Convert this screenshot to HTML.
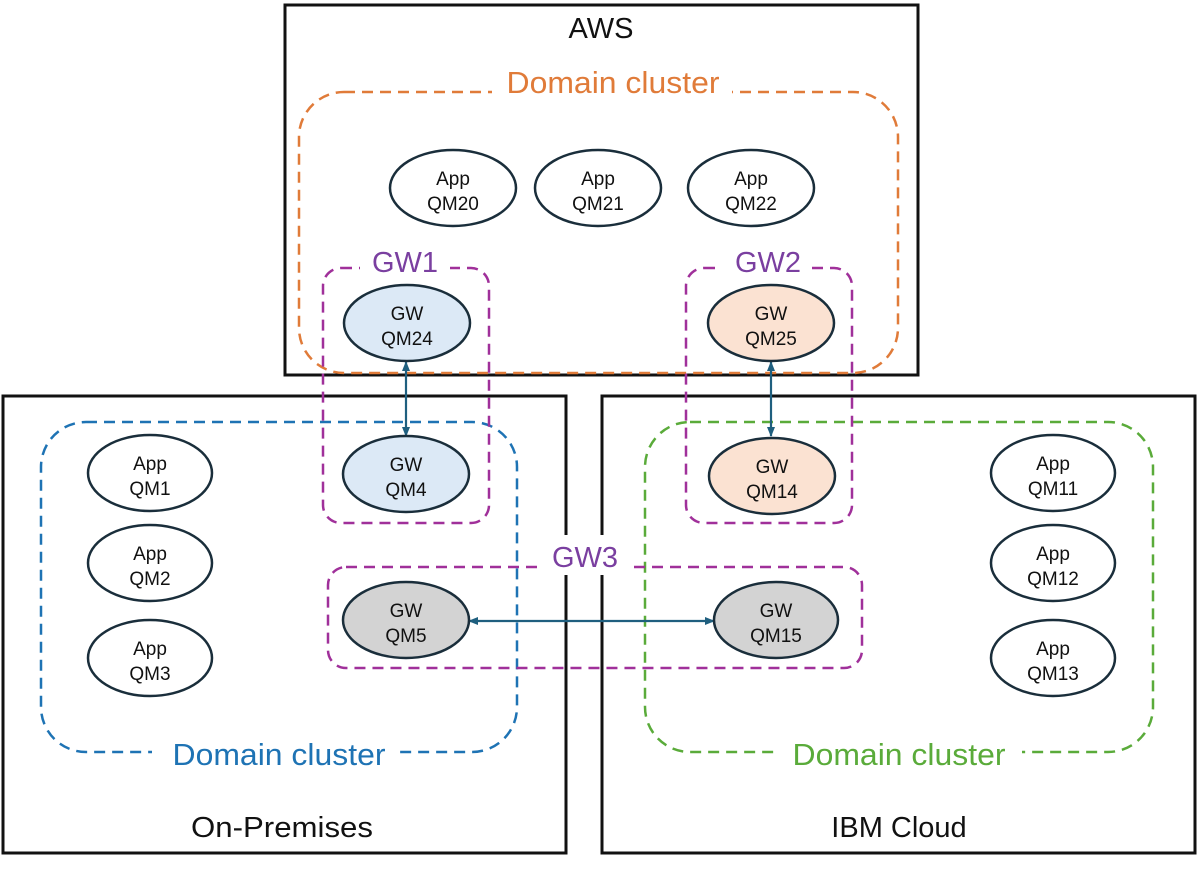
<!DOCTYPE html>
<html><head><meta charset="utf-8"><style>
html,body{margin:0;padding:0;background:#fff;}
svg{display:block;}
text{font-family:"Liberation Sans",sans-serif;}
</style></head><body>
<svg width="1200" height="872" viewBox="0 0 1200 872" xmlns="http://www.w3.org/2000/svg">
<defs>
<marker id="ah" markerWidth="10" markerHeight="10" refX="9" refY="5" orient="auto-start-reverse" markerUnits="userSpaceOnUse">
<path d="M0,1 L10,5 L0,9 z" fill="#1f5f7f"/>
</marker>
</defs>
<rect x="0" y="0" width="1200" height="872" fill="#fff"/>
<rect x="285" y="5" width="633" height="370" fill="none" stroke="#111" stroke-width="3"/>
<rect x="3" y="396" width="563" height="457" fill="none" stroke="#111" stroke-width="3"/>
<rect x="602" y="396" width="593" height="457" fill="none" stroke="#111" stroke-width="3"/>
<g fill="none" stroke-width="2.5" stroke-dasharray="11 7">
<rect x="299" y="92" width="599" height="281" rx="45" stroke="#e07b39"/>
<rect x="41" y="422" width="476" height="330" rx="45" stroke="#1e73b4"/>
<rect x="645" y="422" width="508" height="330" rx="45" stroke="#5aab3a"/>
<rect x="323" y="268" width="166" height="255" rx="18" stroke="#a0309a"/>
<rect x="686" y="268" width="166" height="255" rx="18" stroke="#a0309a"/>
<rect x="328" y="567" width="534" height="101" rx="18" stroke="#a0309a"/>
</g>
<g fill="#fff">
<rect x="492" y="62" width="240" height="40"/>
<rect x="360" y="240" width="90" height="40"/>
<rect x="722" y="240" width="90" height="40"/>
<rect x="540" y="535" width="90" height="40"/>
<rect x="152" y="735" width="245" height="38"/>
<rect x="777" y="735" width="245" height="38"/>
</g>
<g text-anchor="middle">
<text x="613" y="93" font-size="31" fill="#e07b39" textLength="213" lengthAdjust="spacingAndGlyphs">Domain cluster</text>
<text x="405" y="272" font-size="29" fill="#7a3fa0">GW1</text>
<text x="768" y="272" font-size="29" fill="#7a3fa0">GW2</text>
<text x="585" y="567" font-size="29" fill="#7a3fa0">GW3</text>
<text x="279" y="765" font-size="31" fill="#1e73b4" textLength="213" lengthAdjust="spacingAndGlyphs">Domain cluster</text>
<text x="899" y="765" font-size="31" fill="#5aab3a" textLength="213" lengthAdjust="spacingAndGlyphs">Domain cluster</text>
<text x="601" y="38" font-size="29" fill="#111">AWS</text>
<text x="282" y="837" font-size="29" fill="#111" textLength="182" lengthAdjust="spacingAndGlyphs">On-Premises</text>
<text x="899" y="837" font-size="29" fill="#111">IBM Cloud</text>
</g>
<g stroke="#1f5f7f" stroke-width="2.2" fill="none">
<line x1="406" y1="362" x2="406" y2="436" marker-start="url(#ah)" marker-end="url(#ah)"/>
<line x1="771" y1="362" x2="771" y2="436" marker-start="url(#ah)" marker-end="url(#ah)"/>
<line x1="469" y1="621" x2="714" y2="621" marker-start="url(#ah)" marker-end="url(#ah)"/>
</g>
<g stroke="#1a2e3b" stroke-width="2.5">
<ellipse cx="453" cy="188" rx="63" ry="38" fill="#fff"/>
<ellipse cx="598" cy="188" rx="63" ry="38" fill="#fff"/>
<ellipse cx="751" cy="188" rx="63" ry="38" fill="#fff"/>
<ellipse cx="407" cy="323" rx="63" ry="38" fill="#dce9f6"/>
<ellipse cx="771" cy="323" rx="63" ry="38" fill="#fbe2d2"/>
<ellipse cx="406" cy="474" rx="63" ry="38" fill="#dce9f6"/>
<ellipse cx="150" cy="473" rx="62" ry="38" fill="#fff"/>
<ellipse cx="150" cy="563" rx="62" ry="38" fill="#fff"/>
<ellipse cx="150" cy="658" rx="62" ry="38" fill="#fff"/>
<ellipse cx="406" cy="620" rx="63" ry="38" fill="#d3d3d3"/>
<ellipse cx="776" cy="620" rx="62" ry="38" fill="#d3d3d3"/>
<ellipse cx="772" cy="476" rx="63" ry="38" fill="#fbe2d2"/>
<ellipse cx="1053" cy="473" rx="62" ry="38" fill="#fff"/>
<ellipse cx="1053" cy="563" rx="62" ry="38" fill="#fff"/>
<ellipse cx="1053" cy="658" rx="62" ry="38" fill="#fff"/>
</g>
<g font-size="19" text-anchor="middle" fill="#111">
<text x="453" y="185">App</text><text x="453" y="210">QM20</text>
<text x="598" y="185">App</text><text x="598" y="210">QM21</text>
<text x="751" y="185">App</text><text x="751" y="210">QM22</text>
<text x="407" y="320">GW</text><text x="407" y="345">QM24</text>
<text x="771" y="320">GW</text><text x="771" y="345">QM25</text>
<text x="406" y="471">GW</text><text x="406" y="496">QM4</text>
<text x="150" y="470">App</text><text x="150" y="495">QM1</text>
<text x="150" y="560">App</text><text x="150" y="585">QM2</text>
<text x="150" y="655">App</text><text x="150" y="680">QM3</text>
<text x="406" y="617">GW</text><text x="406" y="642">QM5</text>
<text x="776" y="617">GW</text><text x="776" y="642">QM15</text>
<text x="772" y="473">GW</text><text x="772" y="498">QM14</text>
<text x="1053" y="470">App</text><text x="1053" y="495">QM11</text>
<text x="1053" y="560">App</text><text x="1053" y="585">QM12</text>
<text x="1053" y="655">App</text><text x="1053" y="680">QM13</text>
</g>
</svg>
</body></html>
